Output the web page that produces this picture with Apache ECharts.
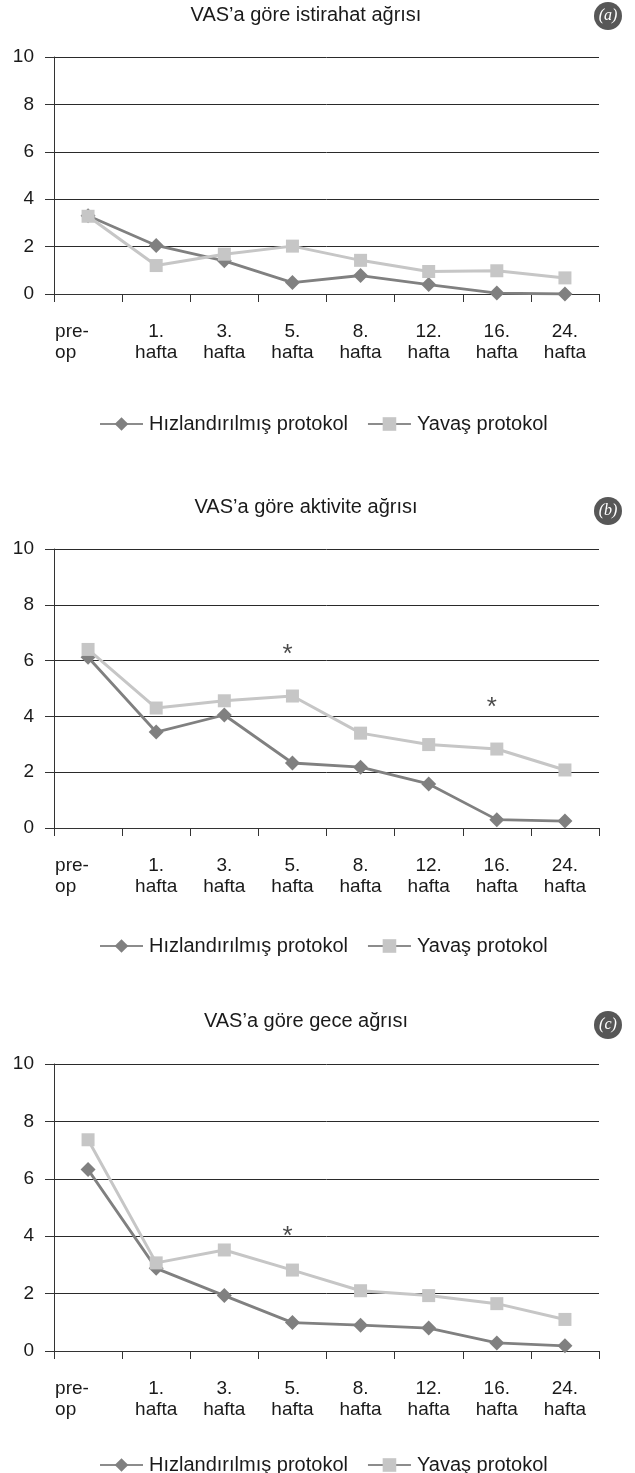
<!DOCTYPE html>
<html>
<head>
<meta charset="utf-8">
<script src="https://cdn.jsdelivr.net/npm/echarts@6/dist/echarts.min.js"></script>
<style>
  html, body { margin: 0; padding: 0; background: #ffffff; }
  #chart { width: 635px; height: 1473px; }
</style>
</head>
<body>
<div id="chart"></div>
<script>
// ---- data ----
const categories = ['pre-\nop', '1.\nhafta', '3.\nhafta', '5.\nhafta', '8.\nhafta', '12.\nhafta', '16.\nhafta', '24.\nhafta'];
const seriesNames = ['Hızlandırılmış protokol', 'Yavaş protokol'];
const panelTitles = ['VAS\u2019a göre istirahat ağrısı', 'VAS\u2019a göre aktivite ağrısı', 'VAS\u2019a göre gece ağrısı'];
const panelTags = ['(a)', '(b)', '(c)'];

const restFast  = [3.30, 2.05, 1.40, 0.48, 0.78, 0.40, 0.04, 0.00];
const restSlow  = [3.28, 1.20, 1.68, 2.02, 1.42, 0.95, 0.98, 0.68];
const actFast   = [6.12, 3.44, 4.05, 2.33, 2.18, 1.58, 0.30, 0.25];
const actSlow   = [6.40, 4.30, 4.56, 4.73, 3.40, 2.99, 2.83, 2.08];
const nightFast = [6.32, 2.88, 1.93, 0.99, 0.90, 0.80, 0.28, 0.18];
const nightSlow = [7.36, 3.07, 3.52, 2.82, 2.10, 1.93, 1.65, 1.10];
// significance markers: [category index, value]
const restStars  = [];
const actStars   = [[3, 6.4], [6, 4.5]];
const nightStars = [[3, 4.15]];

const yMin = 0, yMax = 10, yStep = 2;

// ---- layout ----
const FONT = 'Liberation Sans';
const panels = [
  { top: 57,   height: 237, titleY: 15,   tagY: 16,   legendY: 419,  fast: restFast,  slow: restSlow,  stars: restStars },
  { top: 549,  height: 279, titleY: 507,  tagY: 511,  legendY: 941,  fast: actFast,   slow: actSlow,   stars: actStars },
  { top: 1064, height: 287, titleY: 1021, tagY: 1025, legendY: 1460, fast: nightFast, slow: nightSlow, stars: nightStars }
];

const DARK = '#808080';
const LIGHT = '#c6c6c6';
const TXT = '#1a1a1a';

const option = {
  backgroundColor: '#ffffff',
  animation: false,
  grid: [], xAxis: [], yAxis: [], series: [], legend: [], graphic: []
};

panels.forEach((p, i) => {
  option.grid.push({ left: 54, right: 36, top: p.top, height: p.height, containLabel: false });
  option.xAxis.push({
    type: 'category', gridIndex: i, data: categories, boundaryGap: true,
    axisLine: { show: true, lineStyle: { color: '#333', width: 1 } },
    axisTick: { show: true, length: 8, inside: false, lineStyle: { color: '#333', width: 1 } },
    axisLabel: {
      color: TXT, fontFamily: FONT, fontSize: 19, lineHeight: 21, margin: 27, interval: 0, align: 'center',
      formatter: (v, idx) => idx === 0 ? v.split('\n').map(s => '{l|' + s + '}').join('\n') : v,
      rich: { l: { width: 66, align: 'left', fontFamily: FONT, fontSize: 19, lineHeight: 21, color: TXT } }
    },
    splitLine: { show: false }
  });
  option.yAxis.push({
    type: 'value', gridIndex: i, min: yMin, max: yMax, interval: yStep,
    axisLine: { show: true, lineStyle: { color: '#333', width: 1 } },
    axisTick: { show: true, length: 9, inside: false, lineStyle: { color: '#333', width: 1 } },
    axisLabel: { color: TXT, fontFamily: FONT, fontSize: 19, margin: 20 },
    splitLine: { show: true, lineStyle: { color: '#2a2a2a', width: 1 } }
  });
  option.series.push({
    name: seriesNames[0], type: 'line', xAxisIndex: i, yAxisIndex: i, data: p.fast,
    symbol: 'diamond', symbolSize: 15, showAllSymbol: true,
    lineStyle: { color: DARK, width: 2.8 }, itemStyle: { color: DARK }, z: 3
  });
  option.series.push({
    name: seriesNames[1], type: 'line', xAxisIndex: i, yAxisIndex: i, data: p.slow,
    symbol: 'rect', symbolSize: 13, showAllSymbol: true,
    lineStyle: { color: LIGHT, width: 3 }, itemStyle: { color: LIGHT }, z: 4
  });
  if (p.stars.length) {
    option.series.push({
      name: 'stars', type: 'scatter', xAxisIndex: i, yAxisIndex: i, data: p.stars,
      symbolSize: 1, itemStyle: { color: 'rgba(0,0,0,0)' }, silent: true,
      label: { show: true, position: 'inside', formatter: '*', offset: [-5, 5], color: TXT, fontFamily: FONT, fontSize: 26 }
    });
  }
  option.legend.push({
    data: seriesNames, left: 94, top: p.legendY - 11, orient: 'horizontal',
    itemWidth: 43, itemHeight: 17, itemGap: 19, selectedMode: false,
    lineStyle: { color: '#8c8c8c' },
    textStyle: { color: TXT, fontFamily: FONT, fontSize: 20, lineHeight: 22, padding: [0, 0, 0, 1] }
  });
  option.graphic.push({
    type: 'text', x: 306, y: p.titleY,
    style: { text: panelTitles[i], font: '20px "' + FONT + '"', fill: TXT, textAlign: 'center', textVerticalAlign: 'middle' }
  });
  option.graphic.push({
    type: 'group', left: 594, top: p.tagY - 14,
    children: [
      { type: 'circle', shape: { cx: 14, cy: 14, r: 14 }, style: { fill: '#575757' } },
      { type: 'text', x: 14, y: 14, style: { text: panelTags[i], font: 'italic 16px "Liberation Serif"', fill: '#ffffff', textAlign: 'center', textVerticalAlign: 'middle' } }
    ]
  });
});

const chart = echarts.init(document.getElementById('chart'), null, { renderer: 'canvas' });
chart.setOption(option);
</script>
</body>
</html>
